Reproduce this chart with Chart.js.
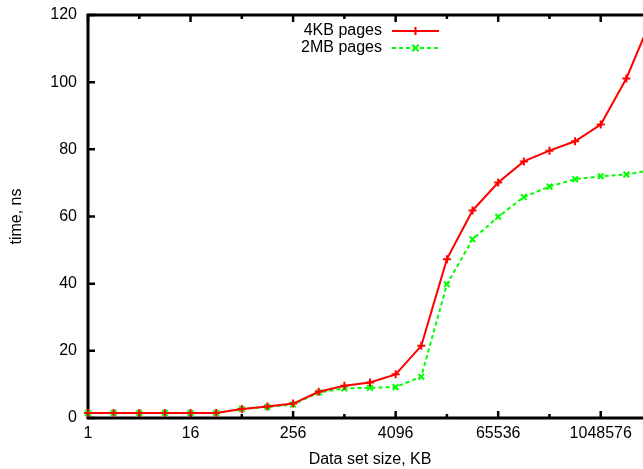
<!DOCTYPE html>
<html>
<head>
<meta charset="utf-8">
<script src="https://cdn.jsdelivr.net/npm/chart.js@4/dist/chart.umd.min.js"></script>
<style>
  body { margin: 0; background: #fff; overflow: hidden; }
  #wrap { width: 660px; height: 469px; }
</style>
</head>
<body>
<div id="wrap"><canvas id="chart" width="660" height="469"></canvas></div>
<script>
// data set size in KB (one point per power of two)
const sizes = [1, 2, 4, 8, 16, 32, 64, 128, 256, 512, 1024, 2048, 4096, 8192,
  16384, 32768, 65536, 131072, 262144, 524288, 1048576, 2097152, 4194304];
const time4k = [1.5, 1.5, 1.5, 1.5, 1.5, 1.5, 2.7, 3.4, 4.3, 7.8, 9.6, 10.6, 13.0, 21.5,
  47.3, 61.8, 70.1, 76.4, 79.6, 82.4, 87.4, 101.1, 119.3];
const time2m = [1.5, 1.5, 1.5, 1.5, 1.5, 1.5, 2.7, 3.3, 4.0, 7.6, 8.8, 9.0, 9.2, 12.3,
  39.8, 53.2, 59.9, 65.8, 68.9, 71.1, 72.0, 72.5, 73.9];
const xMajorTicks = [1, 16, 256, 4096, 65536, 1048576];
const xMinorTicks = [4, 64, 1024, 16384, 262144, 4194304];
const yTicks = [0, 20, 40, 60, 80, 100, 120];

const FONT = { family: '"Liberation Sans", Arial, sans-serif', size: 16 };

// gnuplot style frame with inward ticks
const framePlugin = {
  id: 'frame',
  beforeDatasetsDraw(chart) {
    const ctx = chart.ctx;
    const a = chart.chartArea;
    const xs = chart.scales.x, ys = chart.scales.y;
    ctx.save();
    ctx.strokeStyle = '#000';
    ctx.lineWidth = 2.5;
    ctx.beginPath();
    xMajorTicks.forEach(v => {
      const px = xs.getPixelForValue(v);
      ctx.moveTo(px, a.bottom); ctx.lineTo(px, a.bottom - 7);
      ctx.moveTo(px, a.top); ctx.lineTo(px, a.top + 7);
    });
    xMinorTicks.forEach(v => {
      const px = xs.getPixelForValue(v);
      ctx.moveTo(px, a.bottom); ctx.lineTo(px, a.bottom - 4);
      ctx.moveTo(px, a.top); ctx.lineTo(px, a.top + 4);
    });
    yTicks.forEach(v => {
      const py = ys.getPixelForValue(v);
      ctx.moveTo(a.left, py); ctx.lineTo(a.left + 7, py);
      ctx.moveTo(a.right, py); ctx.lineTo(a.right - 7, py);
    });
    ctx.stroke();
    ctx.lineWidth = 3;
    ctx.strokeRect(a.left, a.top, a.right - a.left, a.bottom - a.top);
    ctx.restore();
  }
};

// key: text right aligned, line sample on the right
const keyPlugin = {
  id: 'key',
  afterDraw(chart) {
    const ctx = chart.ctx;
    const textRight = 382, x0 = 392, x1 = 439;
    ctx.save();
    ctx.font = FONT.size + 'px ' + FONT.family;
    ctx.textAlign = 'right';
    ctx.textBaseline = 'middle';
    chart.data.datasets.forEach((ds, i) => {
      const y = 31 + i * 17;
      ctx.fillStyle = '#000';
      ctx.fillText(ds.label, textRight, y);
      ctx.strokeStyle = ds.borderColor;
      ctx.lineWidth = ds.borderWidth;
      ctx.setLineDash(ds.borderDash || []);
      ctx.beginPath();
      ctx.moveTo(x0, y); ctx.lineTo(x1, y);
      ctx.stroke();
      ctx.setLineDash([]);
      const mx = (x0 + x1) / 2, r = 4;
      ctx.lineWidth = ds.pointBorderWidth;
      ctx.beginPath();
      if (ds.pointStyle === 'cross') {
        ctx.moveTo(mx - r, y); ctx.lineTo(mx + r, y);
        ctx.moveTo(mx, y - r); ctx.lineTo(mx, y + r);
      } else {
        ctx.moveTo(mx - r * 0.8, y - r * 0.8); ctx.lineTo(mx + r * 0.8, y + r * 0.8);
        ctx.moveTo(mx - r * 0.8, y + r * 0.8); ctx.lineTo(mx + r * 0.8, y - r * 0.8);
      }
      ctx.stroke();
    });
    ctx.restore();
  }
};

new Chart(document.getElementById('chart'), {
  type: 'line',
  data: {
    datasets: [
      {
        label: '4KB pages',
        data: sizes.map((s, i) => ({ x: s, y: time4k[i] })),
        borderColor: '#ff0000',
        backgroundColor: '#ff0000',
        borderWidth: 2,
        pointStyle: 'cross',
        pointRadius: 4,
        pointBorderWidth: 2,
        pointBorderColor: '#ff0000',
        tension: 0,
        clip: false
      },
      {
        label: '2MB pages',
        data: sizes.map((s, i) => ({ x: s, y: time2m[i] })),
        borderColor: '#00ff00',
        backgroundColor: '#00ff00',
        borderWidth: 2,
        borderDash: [4, 3],
        pointStyle: 'crossRot',
        pointRadius: 4,
        pointBorderWidth: 2,
        pointBorderColor: '#00ff00',
        tension: 0,
        clip: false
      }
    ]
  },
  options: {
    responsive: false,
    animation: false,
    layout: { padding: { left: 0, top: 15, right: 8, bottom: 0 } },
    plugins: { legend: { display: false }, tooltip: { enabled: false } },
    scales: {
      x: {
        type: 'logarithmic',
        min: 1,
        max: 4194304,
        grid: { display: false, drawTicks: false },
        border: { display: false },
        afterBuildTicks: scale => { scale.ticks = xMajorTicks.map(v => ({ value: v })); },
        afterFit: scale => {
          scale.height = 51;
          scale.paddingLeft = 0;
          scale.paddingRight = 0;
        },
        ticks: {
          autoSkip: false, maxRotation: 0, padding: 6,
          color: '#000', font: FONT,
          callback: v => String(v)
        },
        title: {
          display: true, text: 'Data set size, KB', color: '#000', font: FONT,
          padding: { top: 4, bottom: 0 }
        }
      },
      y: {
        min: 0,
        max: 120,
        grid: { display: false, drawTicks: false },
        border: { display: false },
        afterBuildTicks: scale => { scale.ticks = yTicks.map(v => ({ value: v })); },
        afterFit: scale => {
          scale.width = 88;
          scale.paddingTop = 0;
          scale.paddingBottom = 0;
        },
        ticks: { padding: 11, color: '#000', font: FONT },
        title: {
          display: true, text: 'time, ns', color: '#000', font: FONT,
          padding: { top: 7, bottom: 0 }
        }
      }
    }
  },
  plugins: [framePlugin, keyPlugin]
});
</script>
</body>
</html>
